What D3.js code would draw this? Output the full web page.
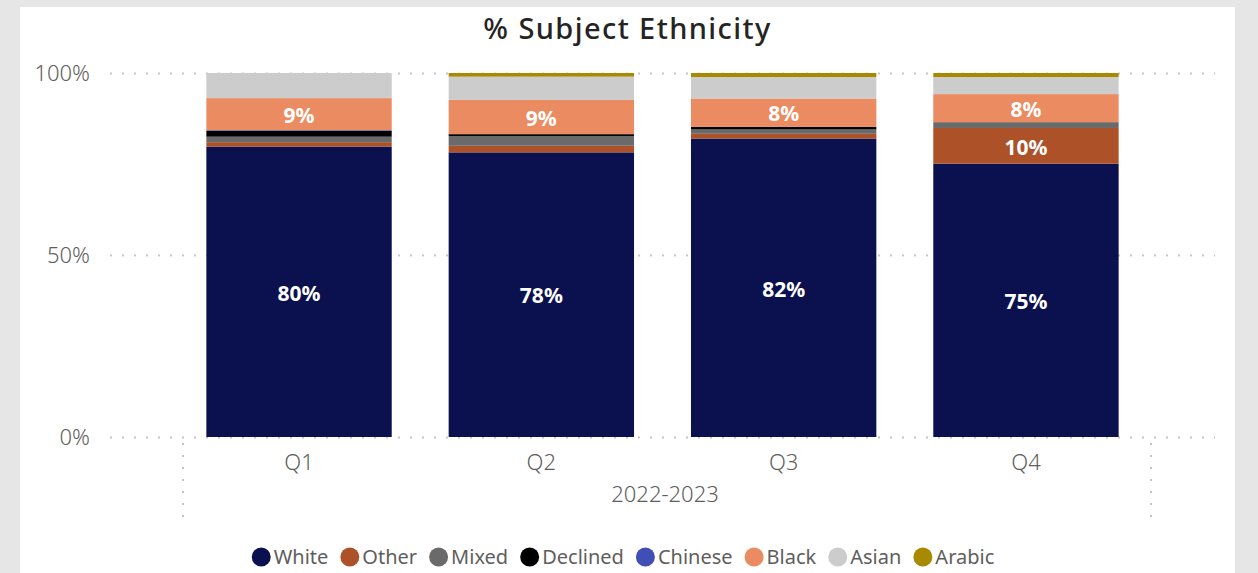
<!DOCTYPE html>
<html><head><meta charset="utf-8">
<script src="https://cdn.jsdelivr.net/npm/d3@7"></script>
<style>
html,body{margin:0;padding:0;background:#e6e6e6;}
svg{display:block;font-family:"Segoe UI","Noto Sans","Open Sans",sans-serif;}
</style></head>
<body>
<svg id="chart" width="1258" height="573"></svg>
<script>
const categories = ["Q1","Q2","Q3","Q4"];
const groupLabel = "2022-2023";
const seriesNames = ["White","Other","Mixed","Declined","Chinese","Black","Asian","Arabic"];
const seriesColors = ["#0b114e","#ad5129","#6a6a6a","#000000","#3f4fb5","#eb8b61","#cccccc","#a88a00"];
const White    = [79.8, 78.2, 82.0, 75.1];
const Other    = [1.2, 1.8, 1.3, 9.8];
const Mixed    = [1.5, 2.7, 1.2, 1.6];
const Declined = [1.6, 0.5, 0.7, 0.0];
const Chinese  = [0.2, 0.0, 0.0, 0.0];
const Black    = [8.8, 9.4, 7.8, 7.7];
const Asian    = [6.9, 6.4, 5.9, 4.7];
const Arabic   = [0.0, 1.0, 1.1, 1.1];
const yTicks = [0, 50, 100];
const title = "% Subject Ethnicity";

const FONT = '"Segoe UI","Noto Sans","Open Sans",sans-serif';
const seriesValues = [White, Other, Mixed, Declined, Chinese, Black, Asian, Arabic];
const rows = categories.map((c,i)=>{
  const r = {cat:c};
  seriesNames.forEach((s,k)=>{ r[s] = seriesValues[k][i]; });
  return r;
});

const svg = d3.select("#chart");
svg.append("rect").attr("x",20).attr("y",7).attr("width",1215).attr("height",573).attr("fill","#fff");

const plotLeft = 110, plotRight = 1215, plotTop = 73, plotBottom = 437;
const barsLeft = 178, barsRight = 1147;
const x = d3.scaleBand().domain(categories).range([barsLeft, barsRight]).paddingInner(0.235).paddingOuter(0.117);
const y = d3.scaleLinear().domain([0,100]).range([plotBottom, plotTop]);

// title
svg.append("text").attr("x",627.5).attr("y",39).attr("text-anchor","middle")
  .attr("font-size",29).attr("letter-spacing","1.4px").attr("font-weight",500).attr("fill","#252423").text(title);

// gridlines
svg.append("g").selectAll("line").data(yTicks).join("line")
  .attr("x1",plotLeft).attr("x2",plotRight)
  .attr("y1",d=>y(d)+0.5).attr("y2",d=>y(d)+0.5)
  .attr("stroke","#c8c6c4").attr("stroke-width",2).attr("stroke-dasharray","2,10");

// y axis labels
const yAxis = d3.axisLeft(y).tickValues(yTicks).tickFormat(d=>d+"%").tickSize(0).tickPadding(0);
const yg = svg.append("g").attr("transform","translate(90,0)").call(yAxis).attr("font-family",FONT);
yg.select(".domain").remove();
yg.selectAll("text").attr("font-size",22).attr("font-weight",300).attr("fill","#605e5c").attr("dy","0.36em");

// stacked bars
const stack = d3.stack().keys(seriesNames);
const stacked = stack(rows);
const color = d3.scaleOrdinal().domain(seriesNames).range(seriesColors);
const layers = svg.append("g").selectAll("g").data(stacked).join("g").attr("fill",d=>color(d.key));
layers.selectAll("rect").data(d=>d.map(v=>({v, key:d.key}))).join("rect")
  .attr("x",d=>x(d.v.data.cat))
  .attr("width",x.bandwidth())
  .attr("y",d=>y(d.v[1]))
  .attr("height",d=>Math.max(0,y(d.v[0])-y(d.v[1])));

// labels
const labels = [];
stacked.forEach(layer=>{
  layer.forEach(v=>{
    const val = v[1]-v[0];
    if (val >= 7.5) labels.push({cat:v.data.cat, mid:(v[0]+v[1])/2, val});
  });
});
svg.append("g").selectAll("text").data(labels).join("text")
  .attr("x",d=>x(d.cat)+x.bandwidth()/2)
  .attr("y",d=>y(d.mid))
  .attr("dy","0.42em")
  .attr("text-anchor","middle")
  .attr("font-size",21).attr("font-weight","bold").attr("fill","#fff")
  .text(d=>Math.round(d.val)+"%");

// x axis
const xAxis = d3.axisBottom(x).tickSize(0).tickPadding(0);
const xg = svg.append("g").attr("transform",`translate(0,${plotBottom+33})`).call(xAxis).attr("font-family",FONT);
xg.select(".domain").remove();
xg.selectAll("text").attr("font-size",22).attr("font-weight",300).attr("fill","#605e5c").attr("dy",0);

svg.append("text").attr("x",665).attr("y",502).attr("text-anchor","middle")
  .attr("font-size",22).attr("font-weight",300).attr("fill","#605e5c").text(groupLabel);

// vertical dotted separators
[183,1151].forEach(xx=>{
  svg.append("line").attr("x1",xx).attr("x2",xx).attr("y1",443).attr("y2",518)
    .attr("stroke","#c8c6c4").attr("stroke-width",2).attr("stroke-dasharray","2,10");
});

// legend
const lg = svg.append("g");
let cx = 0;
seriesNames.forEach((s,i)=>{
  const g = lg.append("g").attr("transform",`translate(${cx},0)`);
  g.append("circle").attr("cx",9.5).attr("cy",0).attr("r",9.5).attr("fill",seriesColors[i]);
  const t = g.append("text").attr("x",22).attr("y",0).attr("dy","0.36em")
    .attr("font-size",20).attr("fill","#605e5c").text(s);
  const w = t.node().getComputedTextLength();
  cx += 22 + w + 12;
});
const total = cx - 12;
lg.attr("transform",`translate(${623 - total/2},557)`);
</script>
</body></html>
